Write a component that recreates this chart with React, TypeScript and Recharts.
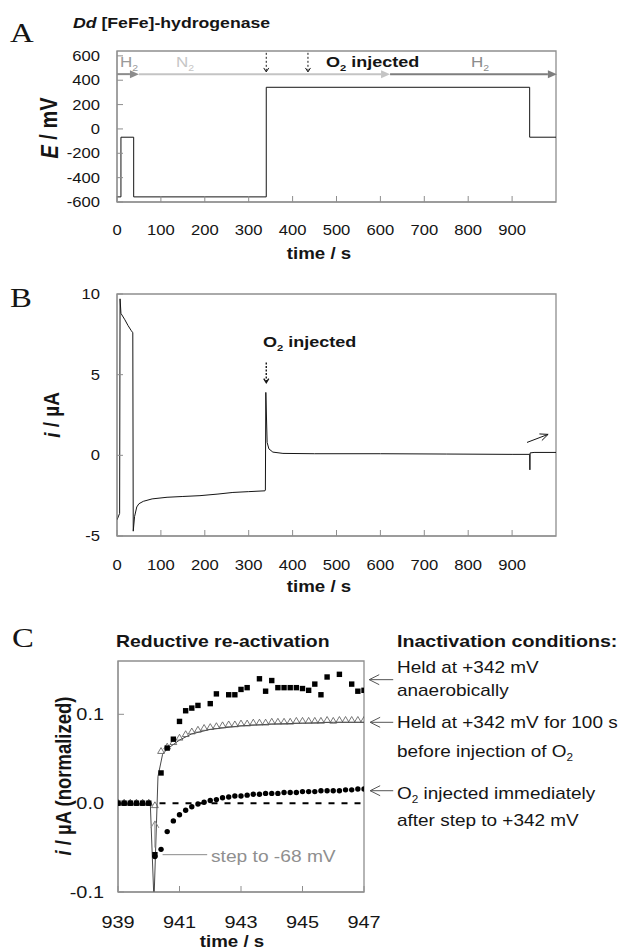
import React from 'react';
import { ComposedChart, Line, Scatter, XAxis, YAxis, ReferenceLine, ReferenceArea } from 'recharts';

const SANS = '"Liberation Sans", Arial, Helvetica, sans-serif';
const SERIF = '"Liberation Serif", "Times New Roman", serif';
const FRAME = '#8e8e8e';
const INK = '#151515';
const SX = 1.17; // the original figure's lettering is set wide

// ---------- A: potential programme ----------
const potTime = [0, 9, 9, 38, 38, 340, 340, 940, 940, 1000];
const potMv = [-558, -558, -68, -68, -558, -558, 342, 342, -68, -68];
const timeTicks = [0, 100, 200, 300, 400, 500, 600, 700, 800, 900];
const potTicks = [-600, -400, -200, 0, 200, 400, 600];

// ---------- B: current trace ----------
const curTime = [0, 6, 7, 9, 18, 25, 32, 36, 37, 40, 45, 50, 60, 80, 114, 150, 189, 230, 264, 300, 337, 338, 339, 342, 346, 355, 378, 450, 600, 750, 900, 940, 940.5, 941, 950, 1000];
const curUa = [-4.0, -3.6, 9.7, 8.8, 8.4, 8.05, 7.75, 7.6, -4.7, -3.8, -3.2, -3.0, -2.85, -2.7, -2.6, -2.55, -2.5, -2.4, -2.3, -2.25, -2.2, -2.15, 3.9, 0.8, 0.4, 0.2, 0.12, 0.1, 0.1, 0.08, 0.06, 0.06, -0.9, 0.15, 0.18, 0.18];
const curTicks = [-5, 0, 5, 10];

// ---------- C: reductive re-activation ----------
const squareTime = [939.0, 939.2, 939.4, 939.6, 939.8, 940.0, 940.2, 940.4, 940.6, 940.8, 941.0, 941.2, 941.4, 941.6, 942.0, 942.2, 942.6, 942.8, 943.0, 943.2, 943.6, 943.8, 944.0, 944.2, 944.4, 944.6, 944.8, 945.0, 945.2, 945.4, 945.6, 945.8, 946.2, 946.6, 946.8, 947.0];
const squareValue = [0, 0, 0, 0, 0, 0, -0.058, 0.034, 0.062, 0.072, 0.092, 0.104, 0.107, 0.110, 0.112, 0.123, 0.122, 0.122, 0.128, 0.130, 0.140, 0.126, 0.138, 0.130, 0.130, 0.130, 0.130, 0.129, 0.127, 0.134, 0.122, 0.142, 0.145, 0.134, 0.126, 0.127];

const gridTime = [939.0, 939.2, 939.4, 939.6, 939.8, 940.0, 940.2, 940.4, 940.6, 940.8, 941.0, 941.2, 941.4, 941.6, 941.8, 942.0, 942.2, 942.4, 942.6, 942.8, 943.0, 943.2, 943.4, 943.6, 943.8, 944.0, 944.2, 944.4, 944.6, 944.8, 945.0, 945.2, 945.4, 945.6, 945.8, 946.0, 946.2, 946.4, 946.6, 946.8, 947.0];
const triangleValue = [0, 0, 0, 0, 0, 0, -0.003, 0.058, 0.063, 0.068, 0.073, 0.077, 0.080, 0.082, 0.084, 0.085, 0.086, 0.087, 0.088, 0.088, 0.089, 0.089, 0.090, 0.090, 0.090, 0.091, 0.091, 0.091, 0.091, 0.092, 0.092, 0.092, 0.092, 0.092, 0.093, 0.092, 0.093, 0.093, 0.093, 0.093, 0.093];
const circleValue = [0, 0, 0, 0, 0, 0, -0.060, -0.052, -0.032, -0.020, -0.013, -0.008, -0.004, -0.001, 0.001, 0.003, 0.004, 0.006, 0.007, 0.008, 0.008, 0.009, 0.010, 0.010, 0.011, 0.011, 0.011, 0.012, 0.012, 0.012, 0.013, 0.013, 0.013, 0.014, 0.014, 0.014, 0.014, 0.015, 0.015, 0.016, 0.016];

// thin current trace under the triangles (with the dip at the potential step)
const traceTime = [939.0, 940.05, 940.17, 940.3, 940.45, 940.6, 940.8, 941.0, 941.4, 942.0, 943.0, 944.0, 945.0, 946.0, 947.0];
const traceValue = [0, 0, -0.11, 0.03, 0.055, 0.061, 0.066, 0.071, 0.078, 0.083, 0.087, 0.089, 0.090, 0.091, 0.091];

const cTimeTicks = [939, 941, 943, 945, 947];
const cTicks = [-0.1, 0, 0.1];

const zip = (t: number[], v: number[]) => t.map((x, i) => ({ t: x, v: v[i] }));

const potData = zip(potTime, potMv);
const curData = zip(curTime, curUa);
const squares = zip(squareTime, squareValue);
const triangles = zip(gridTime, triangleValue);
const circles = zip(gridTime, circleValue);
const trace = zip(traceTime, traceValue);

// text drawn with the same horizontal stretch as the source figure
const Txt = ({ x, y, size, weight, anchor, fill, family, dy, rotate, baseline, children }: any) => (
  <text
    transform={`translate(${x} ${y}) scale(${SX} 1)${rotate ? ` rotate(${rotate})` : ''}`}
    fontSize={size}
    fontWeight={weight}
    textAnchor={anchor}
    dominantBaseline={baseline}
    fill={fill ?? INK}
    fontFamily={family ?? SANS}
    dy={dy}
  >
    {children}
  </text>
);

const xTick = (size: number) => (p: any) => (
  <Txt x={p.x} y={p.y} size={size} anchor="middle" dy="0.71em">{p.payload.value}</Txt>
);
const yTick = (size: number, fmt?: (v: number) => string) => (p: any) => (
  <Txt x={p.x} y={p.y} size={size} anchor="end" dy="0.355em">{fmt ? fmt(p.payload.value) : p.payload.value}</Txt>
);

type ArrowOpts = { head?: number; half?: number; open?: boolean; dash?: string; width?: number };
const arrowShape = (o: ArrowOpts) => (p: any) => {
  const { x1, y1, x2, y2, stroke } = p;
  const head = o.head ?? 8;
  const half = o.half ?? 3.5;
  const sw = o.width ?? 1;
  const dx = x2 - x1;
  const dy = y2 - y1;
  const len = Math.hypot(dx, dy) || 1;
  const ux = dx / len;
  const uy = dy / len;
  const bx = x2 - ux * head;
  const by = y2 - uy * head;
  const nx = -uy * half;
  const ny = ux * half;
  return (
    <g>
      <line x1={x1} y1={y1} x2={o.open ? x2 : bx} y2={o.open ? y2 : by} stroke={stroke} strokeWidth={sw} strokeDasharray={o.dash} />
      {o.open ? (
        <polyline points={`${bx + nx},${by + ny} ${x2},${y2} ${bx - nx},${by - ny}`} fill="none" stroke={stroke} strokeWidth={sw} />
      ) : (
        <polygon points={`${x2},${y2} ${bx + nx},${by + ny} ${bx - nx},${by - ny}`} fill={stroke} />
      )}
    </g>
  );
};

const squareShape = (p: any) => <rect x={p.cx - 2.7} y={p.cy - 2.7} width={5.4} height={5.4} fill="#000" />;
const circleShape = (p: any) => <circle cx={p.cx} cy={p.cy} r={2.7} fill="#000" />;
const triangleShape = (p: any) => (
  <path d={`M${p.cx},${p.cy - 4}L${p.cx + 3.4},${p.cy + 1.8}L${p.cx - 3.4},${p.cy + 1.8}Z`} fill="none" stroke="#555" strokeWidth={0.8} />
);

const PanelA = () => (
  <ComposedChart width={621} height={270} margin={{ top: 51, right: 65, bottom: 8, left: 0 }}>
    <XAxis type="number" dataKey="t" domain={[0, 1000]} ticks={timeTicks} interval={0} allowDataOverflow
      height={60} tickSize={-6} tickMargin={29} stroke={FRAME} tick={xTick(14.2)} />
    <YAxis type="number" domain={[-600, 640]} ticks={potTicks} interval={0} allowDataOverflow
      width={117} tickSize={-6} tickMargin={23} stroke={FRAME} tick={yTick(14.2)} />
    <ReferenceArea x1={0} x2={1000} y1={-600} y2={640} fill="none" stroke={FRAME} strokeWidth={1.3} ifOverflow="visible" />
    <Line data={potData} dataKey="v" type="linear" dot={false} stroke={INK} strokeWidth={1} isAnimationActive={false} />
    <ReferenceLine segment={[{ x: 0, y: 450 }, { x: 50, y: 450 }]} stroke="#8c8c8c" ifOverflow="visible" shape={arrowShape({ width: 2, head: 9, half: 4 })} />
    <ReferenceLine segment={[{ x: 50, y: 450 }, { x: 622, y: 450 }]} stroke="#c4c4c4" ifOverflow="visible" shape={arrowShape({ width: 2, head: 9, half: 4 })} />
    <ReferenceLine segment={[{ x: 622, y: 450 }, { x: 1002, y: 450 }]} stroke="#7e7e7e" ifOverflow="visible" shape={arrowShape({ width: 2, head: 9, half: 4 })} />
    <ReferenceLine segment={[{ x: 340, y: 625 }, { x: 340, y: 468 }]} stroke={INK} ifOverflow="visible" shape={arrowShape({ dash: '2 2', head: 4, half: 2.5, open: true })} />
    <ReferenceLine segment={[{ x: 435, y: 625 }, { x: 435, y: 468 }]} stroke={INK} ifOverflow="visible" shape={arrowShape({ dash: '2 2', head: 4, half: 2.5, open: true })} />
  </ComposedChart>
);

const PanelB = () => (
  <ComposedChart width={621} height={340} margin={{ top: 34, right: 65, bottom: 4, left: 0 }}>
    <XAxis type="number" dataKey="t" domain={[0, 1000]} ticks={timeTicks} interval={0} allowDataOverflow
      height={60} tickSize={-6} tickMargin={30} stroke={FRAME} tick={xTick(14.2)} />
    <YAxis type="number" domain={[-5, 10]} ticks={curTicks} interval={0} allowDataOverflow
      width={117} tickSize={-6} tickMargin={23} stroke={FRAME} tick={yTick(14.2)} />
    <ReferenceArea x1={0} x2={1000} y1={-5} y2={10} fill="none" stroke={FRAME} strokeWidth={1.3} ifOverflow="visible" />
    <Line data={curData} dataKey="v" type="linear" dot={false} stroke={INK} strokeWidth={1} isAnimationActive={false} />
    <ReferenceLine segment={[{ x: 340, y: 5.75 }, { x: 340, y: 4.5 }]} stroke={INK} ifOverflow="visible" shape={arrowShape({ dash: '2 1.5', head: 4, half: 2.5, open: true, width: 1.4 })} />
    <ReferenceLine segment={[{ x: 934, y: 0.8 }, { x: 982, y: 1.3 }]} stroke={INK} ifOverflow="visible" shape={arrowShape({ head: 8, half: 3.5, open: true })} />
  </ComposedChart>
);

const fmt1 = (v: number) => v.toFixed(1);

const PanelC = () => (
  <ComposedChart width={621} height={352} margin={{ top: 61, right: 257, bottom: 2, left: 0 }}>
    <XAxis type="number" dataKey="t" domain={[939, 947]} ticks={cTimeTicks} interval={0} allowDataOverflow
      height={58} tickSize={-6} tickMargin={30} stroke={FRAME} tick={xTick(17)} />
    <YAxis type="number" domain={[-0.1, 0.16]} ticks={cTicks} interval={0} allowDataOverflow
      width={118} tickSize={-6} tickMargin={20} stroke={FRAME} tick={yTick(17, fmt1)} />
    <ReferenceArea x1={939} x2={947} y1={-0.1} y2={0.16} fill="none" stroke={FRAME} strokeWidth={1.3} ifOverflow="visible" />
    <ReferenceLine segment={[{ x: 940.35, y: 0 }, { x: 947, y: 0 }]} stroke="#000" strokeWidth={2} strokeDasharray="6 7" />
    <Line data={trace} dataKey="v" type="linear" dot={false} stroke="#333" strokeWidth={0.9} isAnimationActive={false} />
    <Scatter data={triangles} dataKey="v" shape={triangleShape} isAnimationActive={false} />
    <Scatter data={circles} dataKey="v" shape={circleShape} isAnimationActive={false} />
    <Scatter data={squares} dataKey="v" shape={squareShape} isAnimationActive={false} />
    <ReferenceLine segment={[{ x: 940.2, y: -0.05 }, { x: 940.2, y: -0.02 }]} stroke="#8a8a8a" ifOverflow="visible" shape={arrowShape({ head: 7, half: 4, open: true })} />
    <ReferenceLine segment={[{ x: 940.45, y: -0.058 }, { x: 941.9, y: -0.058 }]} stroke="#8a8a8a" ifOverflow="visible" />
    <ReferenceLine segment={[{ x: 947.95, y: 0.139 }, { x: 947.17, y: 0.139 }]} stroke="#555" ifOverflow="visible" shape={arrowShape({ head: 10, half: 5, open: true })} />
    <ReferenceLine segment={[{ x: 947.95, y: 0.091 }, { x: 947.2, y: 0.091 }]} stroke="#555" ifOverflow="visible" shape={arrowShape({ head: 10, half: 5, open: true })} />
    <ReferenceLine segment={[{ x: 947.95, y: 0.014 }, { x: 947.2, y: 0.014 }]} stroke="#555" ifOverflow="visible" shape={arrowShape({ head: 10, half: 5, open: true })} />
  </ComposedChart>
);

const Sub = ({ children }: { children: React.ReactNode }) => (
  <tspan fontSize="0.62em" dy={4}>{children}</tspan>
);

const Overlay = () => (
  <svg width={621} height={952} style={{ position: 'absolute', left: 0, top: 0, pointerEvents: 'none' }}>
    <Txt x={10} y={42} family={SERIF} size={28}>A</Txt>
    <Txt x={10} y={307} family={SERIF} size={28}>B</Txt>
    <Txt x={12} y={647} family={SERIF} size={28}>C</Txt>

    <Txt x={73} y={28} size={15.1} weight={700}>
      <tspan fontStyle="italic">Dd</tspan> [FeFe]-hydrogenase
    </Txt>

    <Txt x={129} y={67} size={14.5} anchor="middle" fill="#9a9a9a">H<Sub>2</Sub></Txt>
    <Txt x={185} y={67} size={14.5} anchor="middle" fill="#c6c6c6">N<Sub>2</Sub></Txt>
    <Txt x={326} y={67} size={15.4} weight={700}>O<Sub>2</Sub><tspan dy={-4}> injected</tspan></Txt>
    <Txt x={480} y={67} size={14.5} anchor="middle" fill="#8c8c8c">H<Sub>2</Sub></Txt>
    <Txt x={319} y={259} size={16} weight={700} anchor="middle">time / s</Txt>

    <Txt x={263} y={347} size={15.4} weight={700}>O<Sub>2</Sub><tspan dy={-4}> injected</tspan></Txt>
    <Txt x={319} y={592} size={16} weight={700} anchor="middle">time / s</Txt>

    <Txt x={49} y={128} size={20} weight={700} anchor="middle" baseline="central" rotate={-90}>
      <tspan fontStyle="italic">E</tspan> / mV
    </Txt>
    <Txt x={51} y={415} size={19} weight={700} anchor="middle" baseline="central" rotate={-90}>
      <tspan fontStyle="italic">i</tspan> / µA
    </Txt>
    <Txt x={63} y={776} size={18.5} weight={700} anchor="middle" baseline="central" rotate={-90}>
      <tspan fontStyle="italic">i</tspan> / µA (normalized)
    </Txt>

    <Txt x={116} y={647} size={16.6} weight={700}>Reductive re-activation</Txt>
    <Txt x={397} y={647} size={16.8} weight={700}>Inactivation conditions:</Txt>
    <Txt x={397} y={673} size={16.2}>Held at +342 mV</Txt>
    <Txt x={397} y={696} size={16.2}>anaerobically</Txt>
    <Txt x={397} y={728} size={16.2}>Held at +342 mV for 100 s</Txt>
    <Txt x={397} y={757} size={16.2}>before injection of O<Sub>2</Sub></Txt>
    <Txt x={397} y={799} size={16.2}>O<Sub>2</Sub><tspan dy={-4}> injected immediately</tspan></Txt>
    <Txt x={397} y={826} size={16.2}>after step to +342 mV</Txt>
    <Txt x={211} y={862} size={16.4} fill="#8f8f8f">step to -68 mV</Txt>
    <Txt x={232} y={947} size={16} weight={700} anchor="middle">time / s</Txt>
  </svg>
);

export default function App() {
  return (
    <div style={{ position: 'absolute', left: 0, top: 0, width: 621, height: 952, background: '#fff', fontFamily: SANS }}>
      <div style={{ position: 'absolute', left: 0, top: 0 }}><PanelA /></div>
      <div style={{ position: 'absolute', left: 0, top: 260 }}><PanelB /></div>
      <div style={{ position: 'absolute', left: 0, top: 600 }}><PanelC /></div>
      <Overlay />
    </div>
  );
}
